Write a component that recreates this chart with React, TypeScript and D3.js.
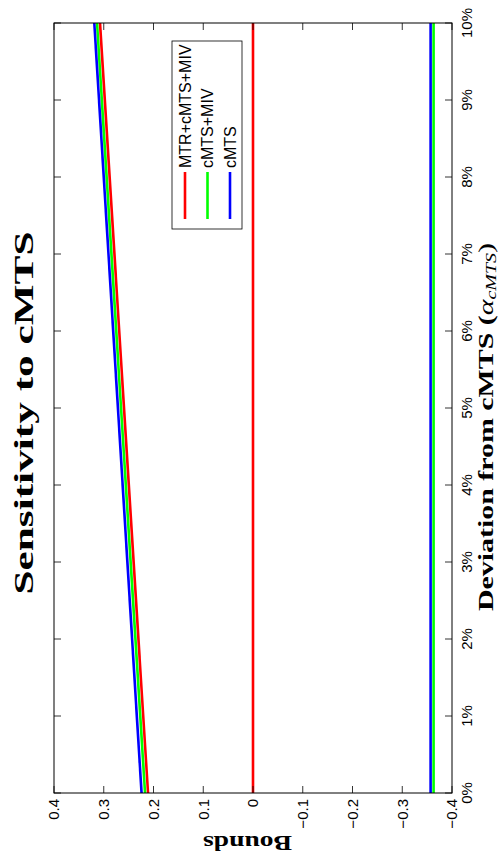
import React from 'react';
import * as d3 from 'd3';

const devPct = [0, 10];
const seriesNames = ['MTR+cMTS+MIV', 'cMTS+MIV', 'cMTS'];
const seriesColors = ['#ff0000', '#00ff00', '#0000ff'];
const upperMTRcMTSMIV = [0.211, 0.3075];
const upperCMTSMIV = [0.217, 0.3135];
const upperCMTS = [0.224, 0.319];
const lowerMTRcMTSMIV = [0.0, 0.0];
const lowerCMTSMIV = [-0.363, -0.363];
const lowerCMTS = [-0.357, -0.357];
const xTicks = [0, 1, 2, 3, 4, 5, 6, 7, 8, 9, 10];
const yTicks = [-0.4, -0.3, -0.2, -0.1, 0, 0.1, 0.2, 0.3, 0.4];

const W = 854;

export default function App() {
  const x = d3.scaleLinear().domain([0, 10]).range([61, 831]);
  const y = d3.scaleLinear().domain([-0.4, 0.4]).range([452, 54]);
  const line = d3
    .line<number>()
    .x((_, i) => x(devPct[i]))
    .y((d) => y(d));
  const series = [
    { up: upperMTRcMTSMIV, lo: lowerMTRcMTSMIV },
    { up: upperCMTSMIV, lo: lowerCMTSMIV },
    { up: upperCMTS, lo: lowerCMTS },
  ];
  const fmt = d3.format('.1~f');
  const [x0, x1] = x.range();
  const [y0, y1] = [y(0.4), y(-0.4)];
  const tl = 7;
  const sans = "'Liberation Sans', Arial, sans-serif";
  const serif = "'Liberation Serif', 'Times New Roman', serif";
  return (
    <svg
      width={500}
      height={854}
      style={{ position: 'absolute', left: 0, top: 0, background: '#fff' }}
    >
      <rect x={0} y={0} width={500} height={854} fill="#fff" />
      <g transform={`translate(0,${W}) rotate(-90)`}>
        {series.map((s, i) => (
          <g key={i}>
            <path d={line(s.up) || ''} fill="none" stroke={seriesColors[i]} strokeWidth={2.6} />
            <path d={line(s.lo) || ''} fill="none" stroke={seriesColors[i]} strokeWidth={2.6} />
          </g>
        ))}
        <rect x={x0} y={y0} width={x1 - x0} height={y1 - y0} fill="none" stroke="#000" strokeWidth={1} />
        {xTicks.map((t) => (
          <g key={'xt' + t}>
            <line x1={x(t)} x2={x(t)} y1={y1} y2={y1 - tl} stroke="#000" strokeWidth={0.8} />
            <line x1={x(t)} x2={x(t)} y1={y0} y2={y0 + tl} stroke="#000" strokeWidth={0.8} />
            <text x={x(t)} y={472} textAnchor="middle" fontFamily={sans} fontSize={15}>
              {`${t}%`}
            </text>
          </g>
        ))}
        {yTicks.map((t) => (
          <g key={'yt' + t}>
            <line x1={x0} x2={x0 + tl} y1={y(t)} y2={y(t)} stroke="#000" strokeWidth={0.8} />
            <line x1={x1} x2={x1 - tl} y1={y(t)} y2={y(t)} stroke="#000" strokeWidth={0.8} />
            <text x={55} y={y(t)} dy="0.36em" textAnchor="end" fontFamily={sans} fontSize={15}>
              {fmt(t)}
            </text>
          </g>
        ))}
        <text
          x={441}
          y={33}
          textAnchor="middle"
          fontFamily={serif}
          fontWeight="bold"
          fontSize={28}
          textLength={363}
          lengthAdjust="spacingAndGlyphs"
        >
          Sensitivity to cMTS
        </text>
        <text
          x={427}
          y={493}
          textAnchor="middle"
          fontFamily={serif}
          fontSize={21}
          textLength={368}
          lengthAdjust="spacingAndGlyphs"
        >
          <tspan fontWeight="bold">Deviation from cMTS (</tspan>
          <tspan fontStyle="italic">α</tspan>
          <tspan fontStyle="italic" fontSize={14} dy={3}>cMTS</tspan>
          <tspan dy={-3}>)</tspan>
        </text>
        <text
          transform="translate(18,247.5) rotate(-90)"
          textAnchor="middle"
          fontFamily={serif}
          fontWeight="bold"
          fontSize={20}
          textLength={89}
          lengthAdjust="spacingAndGlyphs"
        >
          Bounds
        </text>
        <rect x={625} y={172} width={188} height={70} fill="#fff" stroke="#000" strokeWidth={0.8} />
        {seriesNames.map((n, i) => {
          const ly = 185 + i * 22.5;
          return (
            <g key={n}>
              <line x1={635} x2={682} y1={ly} y2={ly} stroke={seriesColors[i]} strokeWidth={2.6} />
              <text x={686} y={ly} dy="0.36em" fontFamily={sans} fontSize={16}>
                {n}
              </text>
            </g>
          );
        })}
      </g>
    </svg>
  );
}
